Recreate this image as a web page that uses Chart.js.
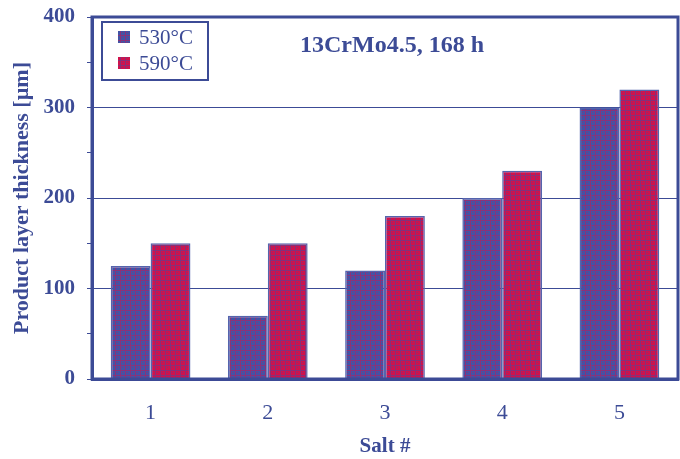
<!DOCTYPE html>
<html>
<head>
<meta charset="utf-8">
<script src="https://cdn.jsdelivr.net/npm/chart.js@4"></script>
<style>
  html, body { margin: 0; padding: 0; background: #fff; }
  #wrap { width: 680px; height: 459px; }
</style>
</head>
<body>
<div id="wrap"><canvas id="chart" width="680" height="459"></canvas></div>
<script>
// Chart data
const salts = ['1', '2', '3', '4', '5'];
const temps = ['530°C', '590°C'];
const thick530 = [125, 70, 120, 200, 300];
const thick590 = [150, 150, 180, 230, 320];
const yTicks = [0, 100, 200, 300, 400];

const BLUE = '#3c4b96';
const RED = '#d0124c';
const FONT = "'Liberation Serif', 'Times New Roman', serif";

// small crosshatch patterns like the original bars
function hatch(base, lines, alpha) {
  const c = document.createElement('canvas');
  c.width = 5; c.height = 5;
  const g = c.getContext('2d');
  g.fillStyle = base;
  g.fillRect(0, 0, 5, 5);
  g.globalAlpha = alpha;
  g.fillStyle = lines;
  g.fillRect(0, 0, 5, 1);
  g.fillRect(0, 1, 1, 4);
  g.fillRect(2, 2, 1, 1);
  return g.createPattern(c, 'repeat');
}
const fill530 = hatch('#4253a6', RED, 0.5);
const fill590 = hatch(RED, '#3c4ea6', 0.5);

// frame, title and inside legend
const extras = {
  id: 'extras',
  afterDraw(chart) {
    const ctx = chart.ctx;
    const a = chart.chartArea;
    ctx.save();
    ctx.strokeStyle = BLUE;
    ctx.lineWidth = 3;
    ctx.strokeRect(a.left, a.top, a.right - a.left, a.bottom - a.top);

    ctx.fillStyle = BLUE;
    ctx.font = 'bold 24px ' + FONT;
    ctx.textAlign = 'center';
    ctx.textBaseline = 'middle';
    ctx.fillText('13CrMo4.5, 168 h', 392, 46);

    // legend box
    ctx.fillStyle = '#fff';
    ctx.fillRect(102, 22, 106, 58);
    ctx.lineWidth = 2;
    ctx.strokeRect(102, 22, 106, 58);
    ctx.font = '21px ' + FONT;
    ctx.textAlign = 'left';
    chart.data.datasets.forEach((ds, i) => {
      const y = 37 + i * 26;
      ctx.fillStyle = ds.backgroundColor;
      ctx.fillRect(118, y - 6, 12, 12);
      ctx.fillStyle = BLUE;
      ctx.fillText(ds.label, 139, y + 1);
    });
    ctx.restore();
  }
};

new Chart(document.getElementById('chart'), {
  type: 'bar',
  data: {
    labels: salts,
    datasets: [
      { label: temps[0], data: thick530, backgroundColor: fill530,
        borderColor: '#5564ad', borderWidth: 1.5 },
      { label: temps[1], data: thick590, backgroundColor: fill590,
        borderColor: '#5564ad', borderWidth: 1.5 }
    ]
  },
  options: {
    responsive: false,
    animation: false,
    layout: { padding: { top: 17, right: 2, left: 0, bottom: 0 } },
    datasets: { bar: { categoryPercentage: 0.68, barPercentage: 1.0 } },
    plugins: {
      legend: { display: false },
      tooltip: { enabled: false }
    },
    scales: {
      x: {
        grid: { display: false },
        border: { color: BLUE, width: 3 },
        ticks: { color: BLUE, font: { family: FONT, size: 22 }, padding: 13 },
        title: { display: true, text: 'Salt #', color: BLUE,
                 font: { family: FONT, size: 21, weight: 'bold' }, padding: 0 },
        afterFit(s) { s.height = 80; s.paddingLeft = 0; s.paddingRight = 0; }
      },
      y: {
        min: 0, max: 400,
        grid: {
          color: (c) => (c.tick && c.tick.value % 100 === 0 && c.tick.value > 0 && c.tick.value < 400) ? BLUE : 'rgba(0,0,0,0)',
          tickColor: BLUE,
          tickLength: 5,
          lineWidth: 1
        },
        border: { color: BLUE, width: 3 },
        ticks: {
          stepSize: 50,
          color: BLUE,
          padding: 12,
          font: { family: FONT, size: 21, weight: 'bold' },
          callback: (v) => yTicks.includes(v) ? String(v) : ''
        },
        title: { display: true, text: 'Product layer thickness [µm]', color: BLUE,
                 font: { family: FONT, size: 22, weight: 'bold' }, padding: { top: 9 } },
        afterFit(s) { s.width = 92; s.paddingTop = 0; s.paddingBottom = 0; }
      }
    }
  },
  plugins: [extras]
});
</script>
</body>
</html>
